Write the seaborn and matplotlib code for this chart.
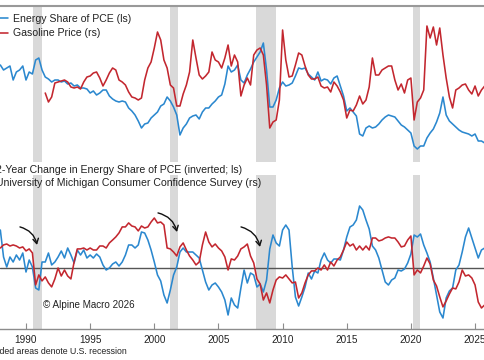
import numpy as np
import matplotlib
matplotlib.use("Agg")
import matplotlib.pyplot as plt
import seaborn as sns
from matplotlib.lines import Line2D

# ---------------- data (quarterly) ----------------
years = np.arange(1988, 2026, 0.25)

# Energy share of PCE, % (top panel, left scale)
energy_share = [
    6.05, 5.90, 5.96, 6.02, 5.60, 5.84, 5.90, 6.02,
    5.60, 5.84, 5.78, 6.20, 6.26, 5.90, 5.69, 5.63,
    5.54, 5.60, 5.60, 5.54, 5.57, 5.48, 5.51, 5.42,
    5.45, 5.36, 5.36, 5.33, 5.21, 5.27, 5.15, 5.21,
    5.30, 5.30, 5.12, 5.03, 4.97, 4.94, 4.97, 4.94,
    4.76, 4.67, 4.55, 4.37, 4.16, 4.28, 4.31, 4.46,
    4.55, 4.64, 4.82, 4.88, 5.09, 4.97, 4.79, 4.55,
    3.95, 4.16, 4.28, 4.46, 4.52, 4.55, 4.43, 4.64,
    4.76, 4.76, 4.88, 4.97, 5.09, 5.15, 5.48, 6.02,
    5.84, 5.90, 6.05, 5.60, 5.51, 5.75, 5.93, 6.14,
    6.29, 6.44, 6.71, 5.90, 4.79, 4.79, 5.00, 5.36,
    5.54, 5.42, 5.45, 5.51, 5.72, 5.96, 5.93, 5.96,
    5.78, 5.69, 5.60, 5.84, 5.57, 5.63, 5.60, 5.48,
    5.66, 5.72, 5.42, 5.12, 4.67, 4.76, 4.64, 4.52,
    3.98, 3.92, 4.16, 4.22, 4.16, 4.19, 4.28, 4.40,
    4.49, 4.55, 4.52, 4.49, 4.37, 4.25, 4.19, 4.10,
    4.01, 3.62, 3.53, 3.62, 3.62, 3.86, 4.01, 4.13,
    4.34, 4.61, 5.09, 4.55, 4.37, 4.28, 4.19, 4.10,
    4.04, 4.01, 3.98, 3.92, 3.98, 3.77, 3.77, 3.71,
]

# Gasoline price (top panel, right scale), starts mid-1991
gas_years = years[14:]
gasoline = [
    2.21, 1.94,
    2.09, 2.51, 2.54, 2.57, 2.60, 2.54, 2.39, 2.36,
    2.39, 2.33, 2.54, 2.69, 2.72, 2.81, 2.84, 2.66,
    2.42, 2.60, 2.81, 2.96, 2.90, 2.60, 2.54, 2.45,
    2.24, 2.09, 2.06, 2.00, 2.06, 2.60, 2.96, 3.14,
    3.56, 4.04, 3.80, 3.20, 2.96, 2.45, 2.36, 1.82,
    1.82, 2.18, 2.45, 2.84, 3.80, 3.26, 2.75, 2.63,
    2.72, 2.84, 3.44, 3.20, 3.14, 2.96, 3.26, 3.65,
    3.02, 3.35, 3.14, 2.12, 2.45, 2.66, 2.45, 3.35,
    3.50, 3.56, 3.35, 2.45, 1.16, 1.34, 1.40, 2.00,
    4.10, 3.20, 2.69, 2.72, 3.05, 3.41, 3.35, 3.02,
    2.75, 2.63, 2.63, 2.69, 2.42, 2.36, 2.39, 2.24,
    2.54, 2.42, 2.24, 2.00, 1.46, 1.70, 1.67, 1.85,
    2.12, 1.88, 2.00, 2.39, 3.26, 2.75, 2.75, 2.90,
    2.96, 3.02, 3.02, 2.60, 2.30, 2.48, 2.21, 2.60,
    2.66, 1.40, 1.94, 2.06, 2.30, 4.22, 3.86, 4.19,
    3.65, 4.16, 3.35, 2.66, 2.09, 1.76, 2.30, 2.36,
    2.45, 2.48, 2.30, 2.18, 2.42, 2.12, 2.30, 2.42,
]

# 2-year change in energy share of PCE, pp (bottom panel, left scale, inverted)
energy_change = [
    -0.76, -0.22, -0.02, -0.22, -0.12, -0.26, -0.16, -0.30,
    0.08, -0.16, -0.02, 0.40, 0.44, -0.12, -0.12, -0.30,
    -0.06, -0.12, -0.22, -0.34, -0.20, -0.40, -0.26, -0.10,
    -0.36, -0.26, -0.36, -0.20, -0.26, -0.20, -0.28, -0.22,
    -0.06, 0.04, 0.00, -0.08, -0.12, -0.04, -0.12, -0.26,
    -0.46, -0.46, -0.40, -0.46, -0.72, -0.70, -0.56, -0.36,
    -0.12, 0.14, 0.26, 0.54, 0.70, 0.44, 0.14, -0.02,
    -0.32, -0.40, -0.32, -0.32, -0.32, -0.26, -0.20, 0.04,
    0.28, 0.44, 0.34, 0.30, 0.38, 0.48, 0.64, 0.94,
    0.60, 0.74, 0.80, 0.40, 0.04, 0.30, 0.10, 0.14,
    0.38, 0.32, 0.48, 0.24, -0.38, -0.66, -0.50, -0.44,
    -0.76, -0.86, -0.76, -0.02, 0.58, 0.76, 0.58, 0.38,
    0.10, 0.22, 0.06, 0.10, -0.16, -0.30, -0.16, -0.10,
    -0.18, -0.18, -0.16, -0.36, -0.62, -0.82, -0.86, -0.96,
    -1.24, -1.16, -0.96, -0.78, -0.44, -0.36, -0.20, 0.04,
    0.28, 0.34, 0.24, 0.20, 0.04, 0.06, 0.02, -0.10,
    -0.28, -0.66, -0.62, -0.68, -0.46, -0.30, -0.12, 0.20,
    0.54, 0.88, 1.00, 0.60, 0.46, 0.40, 0.04, -0.06,
    -0.32, -0.62, -0.80, -0.60, -0.40, -0.20, -0.36, -0.40,
]

# University of Michigan consumer sentiment (bottom panel, right scale)
umich = [
    93.8, 95.8, 96.4, 95.1, 95.8, 95.1, 93.8, 94.5,
    91.9, 93.2, 90.6, 69.8, 76.3, 72.4, 75.0, 71.1,
    68.5, 73.7, 80.8, 75.6, 79.5, 75.6, 73.7, 84.7,
    93.2, 93.2, 93.8, 92.5, 93.8, 92.5, 92.5, 95.1,
    95.1, 93.8, 97.1, 99.0, 101.0, 103.6, 107.5, 107.5,
    110.1, 108.1, 107.5, 104.9, 108.1, 106.8, 107.5, 110.7,
    113.3, 110.1, 110.7, 108.8, 93.8, 93.2, 91.2, 88.6,
    94.5, 97.1, 92.5, 88.6, 86.0, 82.8, 84.7, 95.8,
    104.2, 97.7, 94.5, 96.4, 93.8, 91.9, 88.0, 79.5,
    86.7, 86.0, 88.6, 93.2, 94.5, 96.4, 88.6, 84.1,
    73.7, 70.4, 60.0, 64.6, 58.1, 66.5, 73.0, 75.0,
    74.3, 76.3, 73.7, 71.1, 71.7, 61.3, 64.6, 71.1,
    76.3, 78.9, 78.9, 80.8, 79.5, 82.8, 79.5, 84.7,
    82.1, 86.0, 88.0, 92.5, 97.7, 95.1, 96.4, 92.5,
    95.1, 92.5, 95.1, 92.5, 100.3, 100.3, 98.4, 99.0,
    100.3, 101.0, 100.3, 100.3, 97.7, 94.5, 95.1, 99.0,
    101.6, 76.3, 79.5, 77.6, 82.1, 87.3, 83.4, 73.0,
    69.1, 62.0, 55.5, 59.4, 63.9, 67.8, 67.2, 71.7,
    79.5, 75.6, 76.3, 74.3, 69.8, 58.7, 54.8, 56.8,
]

rec_start = [1990.55, 2001.22, 2007.93, 2020.20]
rec_end = [1991.25, 2001.85, 2009.49, 2020.68]
tick_years = [1990, 1995, 2000, 2005, 2010, 2015, 2020, 2025]

top_labels = ["Energy Share of PCE (ls)", "Gasoline Price (rs)"]
bottom_labels = ["2-Year Change in Energy Share of PCE (inverted; ls)",
                 "University of Michigan Consumer Confidence Survey (rs)"]

# arrows (year, sentiment) tail -> head
arrow_tails = [(1989.53, 107.5), (2000.29, 116.6), (2006.76, 107.5)]
arrow_heads = [(1990.86, 95.8), (2001.77, 104.2), (2008.24, 94.5)]

# ---------------- style ----------------
sns.set_style("white")
plt.rcParams['font.family'] = ['Liberation Sans', 'DejaVu Sans']

BLUE = '#2b88cf'
RED = '#c3272f'
SHADE = '#d9d9d9'
TXT = '#222222'
LW = 1.15

W, H = 485, 360
fig = plt.figure(figsize=(W / 100, H / 100), dpi=100)
ax1 = fig.add_axes([0, 1 - 162 / H, 1, 155 / H])
ax2 = fig.add_axes([0, 1 - 329 / H, 1, 154 / H])
ax1r = ax1.twinx()
ax2r = ax2.twinx()

xlim = (1987.974, 2025.776)
for ax in (ax1, ax2):
    for s, e in zip(rec_start, rec_end):
        ax.axvspan(s, e, color=SHADE, lw=0, zorder=0)

sns.lineplot(x=years, y=energy_share, ax=ax1, color=BLUE, lw=LW)
sns.lineplot(x=gas_years, y=gasoline, ax=ax1r, color=RED, lw=LW)
sns.lineplot(x=years, y=energy_change, ax=ax2, color=BLUE, lw=LW)
sns.lineplot(x=years, y=umich, ax=ax2r, color=RED, lw=LW)

ax2.axhline(0, color='#555555', lw=1.0, zorder=1)

ax1.set_ylim(3.14, 7.79)
ax1r.set_ylim(0.14, 4.79)
ax2.set_ylim(1.22, -1.86)
ax2r.set_ylim(41.15, 141.25)

for ax in (ax1, ax1r, ax2, ax2r):
    ax.set_xlim(*xlim)
    ax.set_xlabel('')
    ax.set_ylabel('')
    ax.set_yticks([])
    for sp in ax.spines.values():
        sp.set_visible(False)
    lg = ax.get_legend()
    if lg is not None:
        lg.remove()

ax1.set_xticks([])
ax2.spines['bottom'].set_visible(True)
ax2.spines['bottom'].set_color('#8c8c8c')
ax2.spines['bottom'].set_linewidth(1.0)
ax2.set_xticks(tick_years)
ax2.set_xticklabels([str(y) for y in tick_years])
ax2.tick_params(axis='x', direction='in', length=4, width=0.8, color='#8c8c8c',
                labelsize=7.2, labelcolor=TXT, pad=4, bottom=True)

# arrows
for t, h in zip(arrow_tails, arrow_heads):
    ax2r.annotate('', xy=h, xytext=t,
                  arrowprops=dict(arrowstyle='->,head_length=0.35,head_width=0.2',
                                  connectionstyle='arc3,rad=-0.3',
                                  color='#111111', lw=1.0, shrinkA=0, shrinkB=0))

# legends
h_top = [Line2D([], [], color=BLUE, lw=LW), Line2D([], [], color=RED, lw=LW)]
fig.legend(h_top, top_labels, loc='upper left', bbox_to_anchor=(-13 / W, 1 - 14 / H),
           frameon=False, fontsize=7.6, handlelength=2.0, handletextpad=0.5,
           borderpad=0, borderaxespad=0, labelspacing=0.42, labelcolor=TXT)
h_bot = [Line2D([], [], color=BLUE, lw=LW), Line2D([], [], color=RED, lw=LW)]
fig.legend(h_bot, bottom_labels, loc='upper left', bbox_to_anchor=(-30 / W, 1 - 165 / H),
           frameon=False, fontsize=7.6, handlelength=2.0, handletextpad=0.5,
           borderpad=0, borderaxespad=0, labelspacing=0.3, labelcolor=TXT)

# texts and frame line
fig.add_artist(Line2D([0, 1], [1 - 6 / H, 1 - 6 / H], transform=fig.transFigure,
                      color='#999999', lw=1.5))
fig.text(43 / W, 1 - 305 / H, '© Alpine Macro 2026', fontsize=7.1, va='center',
         ha='left', color=TXT)
fig.text(-15.6 / W, 1 - 351.5 / H, 'Shaded areas denote U.S. recession', fontsize=6.3,
         va='center', ha='left', color=TXT)

fig.savefig('out.png', dpi=100)
